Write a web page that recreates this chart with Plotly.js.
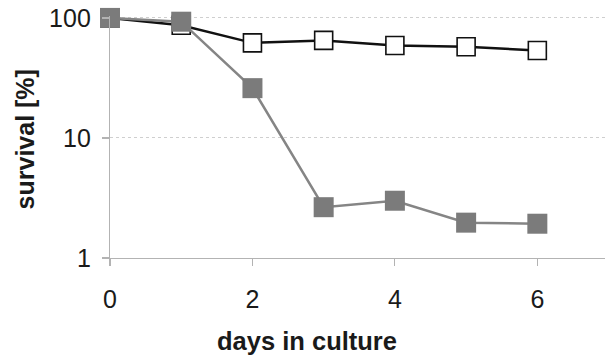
<!DOCTYPE html>
<html>
<head>
<meta charset="utf-8">
<script src="https://cdn.plot.ly/plotly-3.0.1.min.js"></script>
<style>html,body{margin:0;padding:0;background:#fff;}#chart{width:605px;height:355px;}</style>
</head>
<body>
<div id="chart"></div>
<script>
var days = [0, 1, 2, 3, 4, 5, 6];
var survivalOpen = [100, 87, 62, 65, 59, 57.5, 53.5];
var survivalFilled = [100, 93, 26, 2.65, 3.0, 1.97, 1.93];
var xTickVals = [0, 2, 4, 6];
var xTickText = ['0', '2', '4', '6'];
var yTickVals = [1, 10, 100];
var yTickText = ['1', '10', '100'];
var xTitle = 'days in culture';
var yTitle = 'survival [%]';

var FONT = 'Liberation Sans, Arial, sans-serif';

var traces = [
  {
    x: days, y: survivalOpen, type: 'scatter', mode: 'lines+markers', cliponaxis: false,
    line: {color: '#111111', width: 2.5},
    marker: {symbol: 'square', size: 18, color: '#ffffff', line: {color: '#111111', width: 1.6}},
    showlegend: false, hoverinfo: 'skip'
  },
  {
    x: days, y: survivalFilled, type: 'scatter', mode: 'lines+markers', cliponaxis: false,
    line: {color: '#858585', width: 2.5},
    marker: {symbol: 'square', size: 20, color: '#7b7b7b', line: {width: 0}},
    showlegend: false, hoverinfo: 'skip'
  }
];

var layout = {
  width: 605, height: 355,
  margin: {l: 110, r: 0, t: 16, b: 97},
  paper_bgcolor: '#ffffff', plot_bgcolor: '#ffffff',
  font: {family: FONT, color: '#1a1a1a', size: 25},
  xaxis: {
    range: [0, 6.95], tickvals: xTickVals, ticktext: xTickText,
    showgrid: false, zeroline: false,
    showline: true, linecolor: '#b3b3b3', linewidth: 1.2,
    ticks: 'outside', ticklen: 7, tickcolor: '#b3b3b3', tickwidth: 1.2,
    ticklabelstandoff: 12,
    tickfont: {family: FONT, size: 25, color: '#1a1a1a'},
    title: {text: ''}
  },
  yaxis: {
    type: 'log', range: [0, 2.016], tickvals: yTickVals, ticktext: yTickText,
    showgrid: true, gridcolor: '#cfcfcf', griddash: 'dot', gridwidth: 1,
    zeroline: false,
    showline: true, linecolor: '#b3b3b3', linewidth: 1.2,
    ticks: 'outside', ticklen: 7, tickcolor: '#b3b3b3', tickwidth: 1.2,
    ticklabelstandoff: 6,
    tickfont: {family: FONT, size: 25, color: '#1a1a1a'},
    title: {text: ''}
  },
  annotations: [
    {text: '<b>' + xTitle + '</b>', xref: 'paper', yref: 'paper', x: (307 - 110) / 495, y: -0.345,
     xanchor: 'center', yanchor: 'middle', showarrow: false,
     font: {family: FONT, size: 25.5, color: '#1a1a1a'}},
    {text: '<b>' + yTitle + '</b>', xref: 'paper', yref: 'paper', x: (25 - 110) / 495, y: 0.49,
     xanchor: 'center', yanchor: 'middle', showarrow: false, textangle: -90,
     font: {family: FONT, size: 25, color: '#1a1a1a'}}
  ]
};

Plotly.newPlot('chart', traces, layout, {displayModeBar: false, staticPlot: true});
</script>
</body>
</html>
